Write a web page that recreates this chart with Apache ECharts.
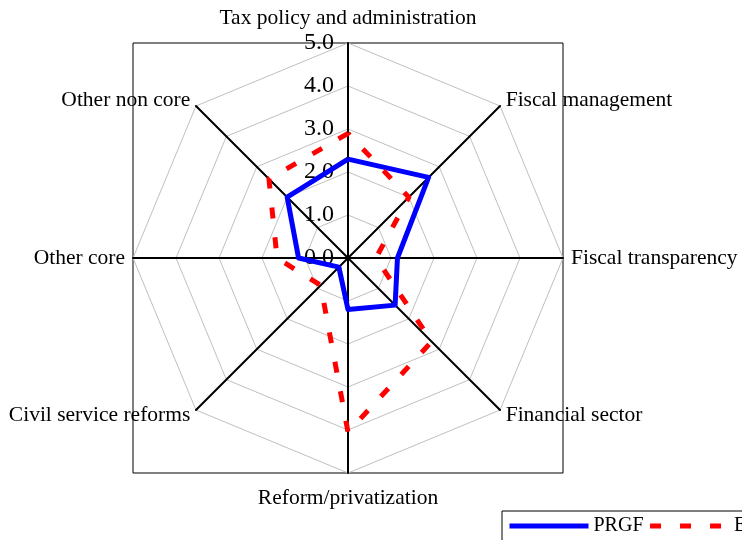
<!DOCTYPE html>
<html>
<head>
<meta charset="utf-8">
<script src="https://cdn.jsdelivr.net/npm/echarts@6/dist/echarts.min.js"></script>
<style>
  html, body { margin: 0; background: #fff; }
  #main { width: 742px; height: 540px; }
</style>
</head>
<body>
<div id="main"></div>
<script>
// axes listed clockwise, starting at the top
var indicators = ['Tax policy and administration', 'Fiscal management', 'Fiscal transparency',
  'Financial sector', 'Reform/privatization', 'Civil service reforms', 'Other core', 'Other non core'];
var prgf = [2.3, 2.65, 1.15, 1.55, 1.2, 0.3, 1.15, 2.0];
var esaf = [2.9, 2.0, 0.65, 2.75, 4.05, 0.9, 1.65, 2.6];
var seriesNames = ['PRGF', 'ESAF'];
var axisMax = 5;

// echarts puts the indicators counter-clockwise, so flip everything after the first
function ccw(a) { return [a[0]].concat(a.slice(1).reverse()); }

var cx = 348, cy = 258, r = 215;
var font = '"Liberation Serif", "Times New Roman", serif';
var blue = '#0000ff', red = '#ff0000';
var dash = [11, 19];

var indicatorOpts = indicators.map(function (name, i) {
  var o = { name: name, min: 0, max: axisMax };
  if (i === 0) o.axisLabel = { show: true };   // scale only on the top axis
  if (i === 0 || i === 4) o.nameGap = 14;
  return o;
});

var chart = echarts.init(document.getElementById('main'));
chart.setOption({
  animation: false,
  backgroundColor: '#fff',
  graphic: [{
    type: 'rect', z: 0,
    shape: { x: cx - r, y: cy - r, width: 2 * r, height: 2 * r },
    style: { fill: 'none', stroke: '#000', lineWidth: 1 }
  }],
  legend: {
    data: seriesNames,
    left: 502, top: 511, width: 400,
    orient: 'horizontal',
    padding: [5, 5, 5, 5],
    itemGap: 4, itemWidth: 79, itemHeight: 18,
    backgroundColor: '#fff', borderColor: '#000', borderWidth: 1, borderRadius: 0,
    itemStyle: { opacity: 0 },
    lineStyle: { width: 5 },
    textStyle: { fontFamily: font, fontSize: 20, color: '#000' },
    selectedMode: false
  },
  // hidden grid only so the empty line series (legend icons) have somewhere to live
  grid: { show: false, left: 0, top: 0, width: 1, height: 1 },
  xAxis: { show: false, type: 'category' },
  yAxis: { show: false, type: 'value' },
  radar: {
    center: [cx, cy],
    radius: r,
    startAngle: 90,
    shape: 'polygon',
    splitNumber: 5,
    indicator: ccw(indicatorOpts),
    nameGap: 8,
    axisName: { color: '#000', fontFamily: font, fontSize: 21.5 },
    axisLine: { lineStyle: { color: '#000', width: 2 } },
    axisTick: { show: false },
    splitLine: { lineStyle: { color: '#c0c0c0', width: 1 } },
    splitArea: { show: false },
    axisLabel: {
      show: false, color: '#000', fontFamily: font, fontSize: 24, margin: 14,
      formatter: function (v) { return v.toFixed(1); }
    }
  },
  series: [
    { type: 'line', name: 'PRGF', data: [], symbol: 'none', lineStyle: { color: blue, width: 5 }, itemStyle: { color: blue } },
    { type: 'line', name: 'ESAF', data: [], symbol: 'none', lineStyle: { color: red, width: 5, type: dash }, itemStyle: { color: red } },
    {
      type: 'radar',
      symbol: 'none',
      data: [
        { name: 'PRGF', value: ccw(prgf), lineStyle: { color: blue, width: 5 }, itemStyle: { color: blue } },
        { name: 'ESAF', value: ccw(esaf), lineStyle: { color: red, width: 5, type: dash }, itemStyle: { color: red } }
      ]
    }
  ]
});
</script>
</body>
</html>
